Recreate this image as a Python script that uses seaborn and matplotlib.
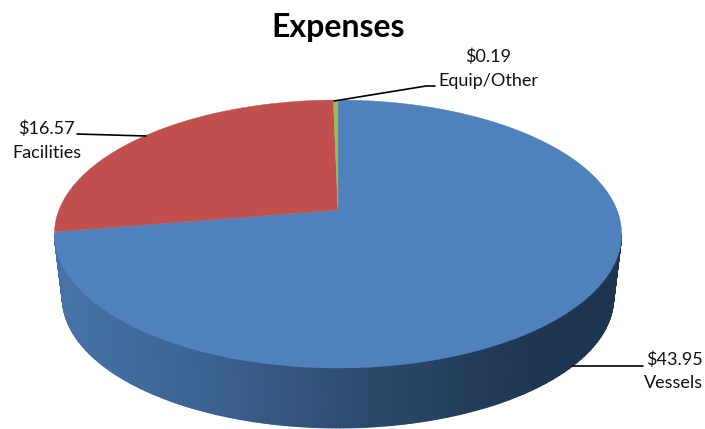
import numpy as np
import matplotlib
matplotlib.use("Agg")
import matplotlib.pyplot as plt
from matplotlib.colors import LinearSegmentedColormap
import seaborn as sns

# Expense breakdown
categories = ["Vessels", "Facilities", "Equip/Other"]
amounts = [43.95, 16.57, 0.19]
slice_colors = ["#4F81BD", "#C0504D", "#9BBB59"]

# Geometry of the tilted disc, in figure pixels
CX, APEX_Y = 338.0, 210.0
RX, RY, PERSP = 279.0, 129.7, 0.179
RIM_SCALE, RIM_DROP = 0.972, 64.4


def project(theta_deg, scale=1.0, drop=0.0):
    """Map a point on the unit circle onto the tilted disc."""
    t = np.radians(theta_deg)
    u, v = np.cos(t), np.sin(t)
    w = 1.0 + PERSP * v
    return CX + scale * RX * u / w, APEX_Y - scale * RY * v / w + drop


sns.set_theme(style="white")
plt.rcParams["font.family"] = ["Lato", "DejaVu Sans"]

fig = plt.figure(figsize=(7.05, 4.29), dpi=100, facecolor="white")
ax = fig.add_axes([0, 0, 1, 1])

# Slice angles come from the pie layout; each wedge is then redrawn tilted
wedges, _ = ax.pie(amounts, colors=sns.color_palette(slice_colors),
                   startangle=90, counterclock=False)
spans = [(w.theta1, w.theta2, w.get_facecolor()) for w in wedges]
for w in wedges:
    w.remove()

ax.set_aspect("auto")
ax.set_xlim(0, 705)
ax.set_ylim(429, 0)
ax.axis("off")

# Rim of the disc, shaded from left to right
rim_cmap = LinearSegmentedColormap.from_list("rim", [
    (0.00, "#4873AA"), (0.32, "#3A5F8C"), (0.52, "#2E4C70"),
    (0.75, "#233C5A"), (0.85, "#1F3650"), (1.00, "#1E3550"),
])
edge = np.degrees(np.arcsin(PERSP))
rim_angles = np.linspace(180 + edge, 360 - edge, 240)
x_top, y_top = project(rim_angles)
x_bot, y_bot = project(rim_angles, RIM_SCALE, RIM_DROP)
mesh_x = np.vstack([x_top, x_bot])
mesh_y = np.vstack([y_top, y_bot])
ax.pcolormesh(mesh_x, mesh_y, mesh_x, cmap=rim_cmap, vmin=55, vmax=622,
              shading="gouraud", zorder=1)

# Top face
for theta1, theta2, color in spans:
    arc = np.linspace(theta1, theta2, max(int(theta2 - theta1) * 2, 6))
    x_arc, y_arc = project(arc)
    ax.fill(np.r_[CX, x_arc], np.r_[APEX_Y, y_arc], color=color,
            linewidth=0.3, zorder=2)

# Leader lines
leaders = [
    ([572, 643], [366, 366]),
    ([146, 77], [136, 134]),
    ([334, 426, 435], [101, 86, 86]),
]
for lx, ly in leaders:
    ax.plot(lx, ly, color="black", linewidth=1.2, zorder=3)

# Data labels
label_pos = [(674, 360, 383), (46.5, 129, 153), (488, 57, 81)]
for name, amount, (tx, y1, y2) in zip(categories, amounts, label_pos):
    ax.text(tx, y1, f"${amount:.2f}", ha="center", va="center",
            fontsize=13, color="#111111")
    ax.text(tx, y2, name, ha="center", va="center",
            fontsize=13, color="#111111")

ax.text(338, 28, "Expenses", ha="center", va="center", fontsize=23,
        fontweight="bold", color="black")

fig.savefig("out.png", dpi=100, facecolor="white")
